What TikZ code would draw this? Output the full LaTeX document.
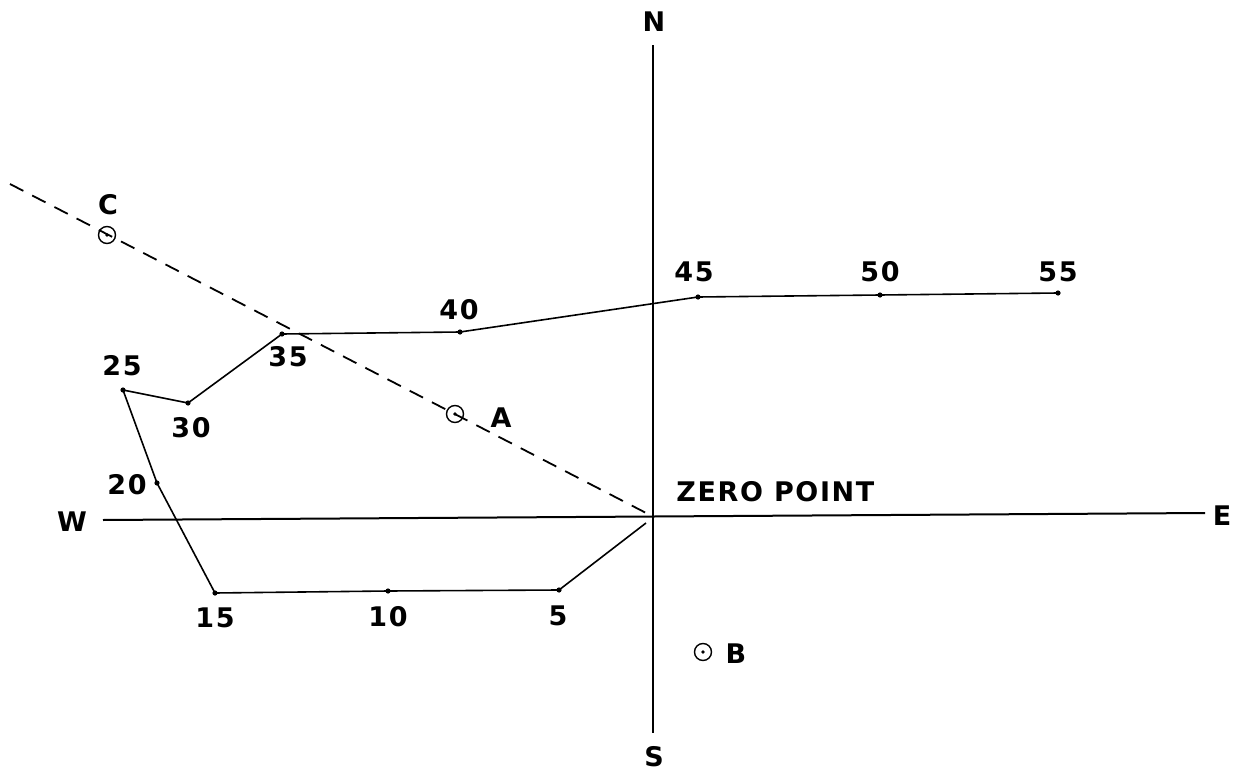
\documentclass[tikz,border=0pt]{standalone}
\usepackage{fontspec}
\setmainfont{DejaVu Sans}[LetterSpace=6]
\begin{document}
\begin{tikzpicture}[x=0.5pt,y=-0.5pt,
  lab/.style={font=\bfseries\fontsize{13.5}{15}\selectfont, inner sep=0pt},
  axis/.style={line width=1pt},
  track/.style={line width=0.8pt},
  dot/.style={circle, fill=black, inner sep=0pt, minimum size=2.6pt},
  marker/.style={circle, draw, line width=0.7pt, inner sep=0pt, minimum size=8.5pt,
    path picture={\fill (path picture bounding box.center) circle (0.9pt);}},
  guide/.style={line width=0.9pt, dash pattern=on 7.5pt off 5pt}]
\useasboundingbox (0,0) rectangle (1233,771);
% axes
\coordinate (nTop) at (653,45);
\coordinate (sBot) at (653,733);
\coordinate (wEnd) at (103,520);
\coordinate (eEnd) at (1205,513);
\coordinate (zero) at (653,517);
\draw[axis] (nTop) -- (sBot);
\draw[axis] (wEnd) -- (eEnd);
\node[lab] (N) at (654,22) {N};
\node[lab] (S) at (654,757) {S};
\node[lab] (W) at (72,522) {W};
\node[lab] (E) at (1222,516) {E};
\node[lab, anchor=west] (zp) at (676,492) {ZERO POINT};
% dashed guide line
\coordinate (gStart) at (10,184);
\coordinate (gEnd) at (650,515);
\draw[guide] (gStart) -- (gEnd);
\node[marker] (C) at (107,235) {};
\node[marker] (A) at (455,414) {};
\node[marker] (B) at (703,652) {};
\node[lab] (Cl) at (108,205) {C};
\node[lab] (Al) at (501,418) {A};
\node[lab] (Bl) at (736,654) {B};
% track
\coordinate (p0) at (646,523);
\node[dot] (p5) at (559,590) {};
\node[dot] (p10) at (388,591) {};
\node[dot] (p15) at (215,593) {};
\node[dot] (p20) at (157,483) {};
\node[dot] (p25) at (123,390) {};
\node[dot] (p30) at (188,403) {};
\node[dot] (p35) at (282,334) {};
\node[dot] (p40) at (460,332) {};
\node[dot] (p45) at (698,297) {};
\node[dot] (p50) at (880,295) {};
\node[dot] (p55) at (1058,293) {};
\draw[track] (p0) -- (p5.center) -- (p10.center) -- (p15.center) -- (p20.center)
  -- (p25.center) -- (p30.center) -- (p35.center) -- (p40.center) -- (p45.center)
  -- (p50.center) -- (p55.center);
\node[lab] (l5) at (558,616) {5};
\node[lab] (l10) at (388,617) {10};
\node[lab] (l15) at (215,618) {15};
\node[lab] (l20) at (127,485) {20};
\node[lab] (l25) at (122,366) {25};
\node[lab] (l30) at (191,428) {30};
\node[lab] (l35) at (288,357) {35};
\node[lab] (l40) at (459,310) {40};
\node[lab] (l45) at (694,272) {45};
\node[lab] (l50) at (880,272) {50};
\node[lab] (l55) at (1058,272) {55};
\end{tikzpicture}
\end{document}
